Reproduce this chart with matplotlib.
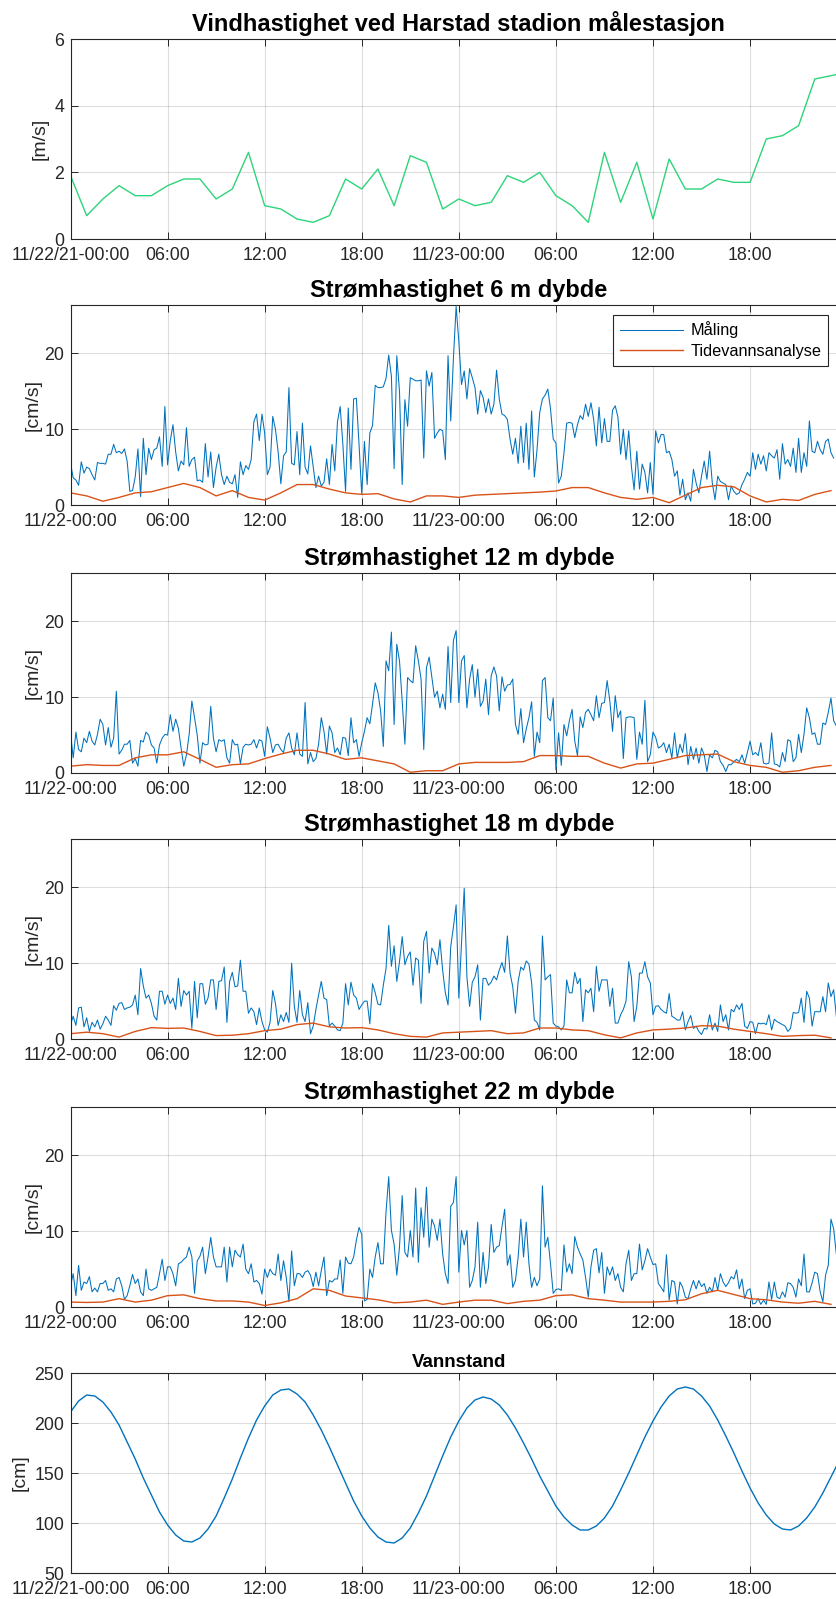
import numpy as np
import matplotlib
matplotlib.use('Agg')
from matplotlib import pyplot as plt

plt.rcParams['font.family'] = ['Liberation Sans', 'DejaVu Sans']

BLUE = '#0072BD'
ORANGE = '#D95319'
GREEN = '#2ED47A'
AXC = '#262626'

# wind, hourly from 11/22 00:00
wind = [1.9, 0.7, 1.2, 1.6, 1.3, 1.3, 1.6, 1.8, 1.8, 1.2, 1.5, 2.6, 1.0, 0.9, 0.6, 0.5,
        0.7, 1.8, 1.5, 2.1, 1.0, 2.5, 2.3, 0.9, 1.2, 1.0, 1.1, 1.9, 1.7, 2.0, 1.3, 1.0,
        0.5, 2.6, 1.1, 2.3, 0.6, 2.4, 1.5, 1.5, 1.8, 1.7, 1.7, 3.0, 3.1, 3.4, 4.8, 4.9, 5.0]

# current speed, measured every 10 minutes
cur6 = [5.5, 3.6, 3.3, 2.6, 5.7, 4.2, 5.0, 4.8, 4.0, 3.3, 5.6, 5.5,
        5.5, 5.4, 6.7, 6.7, 8.0, 6.9, 7.1, 6.8, 7.4, 5.8, 1.8, 1.9,
        3.7, 7.4, 1.1, 8.8, 4.0, 7.5, 6.0, 7.3, 7.5, 9.0, 5.1, 13.0,
        5.3, 8.5, 10.6, 7.0, 4.5, 5.8, 5.3, 10.2, 5.1, 6.0, 6.3, 3.2,
        3.3, 3.0, 8.1, 3.7, 7.0, 2.3, 5.0, 6.7, 4.0, 2.7, 3.8, 3.0,
        2.8, 4.0, 1.0, 5.7, 4.0, 5.2, 4.7, 6.0, 11.0, 12.0, 8.5, 12.0,
        9.5, 4.0, 5.0, 11.7, 10.0, 7.0, 2.8, 6.5, 7.0, 15.5, 5.5, 5.3,
        9.7, 4.0, 10.8, 5.0, 4.1, 7.8, 5.0, 2.3, 3.8, 2.5, 3.0, 6.1,
        2.7, 8.0, 4.5, 11.0, 13.0, 8.0, 1.8, 12.8, 4.7, 14.0, 14.1, 8.0,
        1.4, 8.4, 2.7, 9.5, 10.5, 15.8, 15.5, 15.5, 15.6, 16.7, 19.8, 17.0,
        4.8, 19.7, 15.0, 2.7, 13.9, 10.4, 16.8, 16.6, 16.4, 16.4, 16.5, 6.2,
        17.7, 15.7, 17.5, 8.8, 9.5, 10.0, 9.8, 6.0, 19.7, 11.1, 19.4, 26.2,
        21.6, 15.9, 17.7, 14.0, 18.0, 16.8, 15.5, 12.0, 15.1, 14.2, 12.2, 14.0,
        12.0, 13.3, 17.8, 14.0, 12.0, 11.8, 11.3, 8.7, 6.7, 8.8, 5.5, 10.4,
        5.6, 10.8, 4.7, 12.4, 3.7, 7.3, 12.2, 14.0, 14.5, 15.3, 12.7, 8.7,
        8.2, 2.9, 3.8, 6.9, 10.8, 10.9, 10.8, 8.9, 10.6, 11.8, 11.3, 13.3,
        11.7, 13.5, 11.3, 7.8, 12.9, 8.2, 11.4, 8.4, 8.4, 12.5, 13.1, 11.6,
        6.7, 10.0, 6.0, 9.8, 5.1, 2.0, 7.1, 2.1, 5.4, 4.3, 1.6, 5.6,
        1.4, 9.8, 8.2, 9.3, 9.3, 6.9, 7.1, 6.0, 3.8, 4.5, 1.3, 3.4,
        0.7, 1.6, 0.5, 4.7, 2.9, 1.6, 3.8, 5.8, 3.4, 7.1, 2.9, 0.7,
        3.8, 3.1, 2.9, 2.7, 0.7, 2.5, 1.8, 1.4, 1.6, 2.7, 3.4, 4.3,
        3.8, 6.9, 4.7, 6.7, 5.4, 6.5, 4.5, 6.9, 6.5, 6.2, 7.3, 3.4,
        8.1, 5.4, 6.0, 5.1, 7.5, 4.3, 8.8, 4.3, 6.9, 5.1, 11.1, 7.1,
        6.9, 8.4, 7.3, 6.7, 8.4, 8.7, 6.9, 6.2]

cur12 = [5.3, 2.0, 5.4, 3.1, 2.8, 4.6, 4.0, 5.5, 4.2, 3.7, 5.1, 7.1, 6.4,
         3.7, 6.0, 3.4, 4.6, 10.8, 2.5, 3.0, 3.8, 3.8, 4.3, 1.3, 1.9,
         0.9, 4.3, 4.1, 5.4, 5.0, 3.7, 3.3, 1.3, 3.7, 4.6, 5.1, 5.0,
         7.7, 5.5, 7.1, 5.9, 3.3, 0.9, 2.4, 5.1, 9.5, 7.3, 5.0, 1.3,
         4.0, 3.7, 3.8, 8.8, 4.6, 2.8, 4.4, 4.2, 4.4, 2.0, 1.3,
         4.4, 3.7, 3.8, 1.2, 3.4, 3.8, 3.7, 3.8, 4.4, 3.3, 4.4, 4.2,
         2.2, 6.1, 4.6, 2.7, 3.7, 3.8, 3.1, 2.7, 4.6, 5.3, 3.3,
         2.4, 5.3, 2.5, 2.2, 9.3, 1.2, 2.7, 1.5, 1.9, 3.8, 7.3, 5.5,
         2.5, 6.2, 5.3, 2.7, 3.3, 2.4, 4.7, 4.6, 2.3, 7.3, 4.0,
         4.4, 2.2, 4.0, 5.5, 7.3, 6.5, 9.1, 11.9, 10.6, 8.2, 3.5, 14.8,
         13.5, 18.6, 6.4, 17.0, 14.8, 9.5, 3.8, 12.6, 12.2, 11.9, 16.8, 14.8,
         12.4, 3.1, 13.9, 15.3, 12.6, 10.0, 10.8, 8.6, 10.4, 8.4, 16.7, 9.3,
         17.5, 18.8, 9.3,
         14.8, 15.5, 8.6, 12.4, 14.3, 10.0, 13.7, 8.8, 9.5, 12.4, 7.7, 12.8,
         14.0, 12.8, 8.2, 12.7, 10.8, 11.6, 11.7, 12.4, 6.4, 5.1, 8.5, 4.0,
         5.8, 7.3, 9.4, 2.2, 5.4, 4.0, 12.2, 12.6, 7.3, 6.9, 9.9, 0.4,
         5.3, 1.0, 6.4, 4.9, 6.9, 8.4, 4.2, 2.3, 7.4, 6.0, 8.0, 8.4,
         7.7, 6.9, 10.2, 7.3, 9.2, 9.3, 12.2, 9.5, 5.5, 10.2, 7.3, 8.2,
         1.9, 7.3, 7.4, 7.4, 7.3, 1.8, 5.4, 3.8, 9.6, 1.5, 2.4, 5.4,
         4.7, 3.3, 3.5, 4.0, 2.7, 3.8, 2.0, 5.3, 2.0, 3.8, 2.7, 5.2,
         1.1, 3.5, 1.8, 3.3, 1.3, 3.3, 2.4, 0.2, 2.4, 2.0, 3.0, 2.8,
         1.5, 1.0, 0.2, 1.1, 1.1, 1.5, 1.8, 1.5, 2.4, 1.3, 2.7, 4.2,
         2.4, 2.7, 2.3, 4.0, 1.3, 1.2, 1.3, 5.3, 1.2, 1.1, 0.8, 2.7,
         1.5, 4.4, 4.2, 1.5, 2.0, 5.1, 2.7, 5.1, 8.6, 7.3, 5.1, 5.3,
         3.8, 3.8, 6.6, 6.4, 8.0, 9.9, 6.9, 6.2]

cur18 = [1.9, 3.0, 1.8, 4.1, 4.2, 1.6, 2.8, 1.0, 2.2, 1.6,
         2.5, 1.3, 2.0, 3.0, 2.5, 1.8, 4.4, 3.8, 4.7, 4.8,
         3.9, 4.1, 4.2, 4.5, 5.8, 3.2, 9.3, 7.0, 5.4, 5.8,
         4.7, 3.0, 2.5, 6.3, 6.3, 4.6, 5.8, 4.7, 5.4, 3.9,
         8.0, 4.3, 6.4, 5.8, 6.3, 1.4, 7.6, 2.8, 7.3, 7.3,
         4.6, 5.4, 7.8, 7.8, 3.9, 7.6, 7.7, 9.5, 2.2, 7.6,
         8.8, 6.9, 7.0, 10.4, 6.3, 6.3, 3.4, 4.1, 3.6, 1.9,
         4.1, 2.3, 1.2, 0.9, 2.2, 6.4, 4.7, 1.8, 3.2, 2.3,
         3.5, 2.2, 10.0, 4.3, 2.2, 6.4, 3.2, 2.3, 4.8, 0.7,
         1.7, 3.9, 5.8, 7.6, 5.4, 5.2, 1.7, 2.1, 1.7, 1.2,
         1.1, 2.1, 7.3, 4.5, 7.5, 5.8, 5.4, 3.9, 4.5, 5.0,
         5.0, 2.0, 7.3, 6.1, 4.6, 4.5, 7.1, 9.3, 15.0, 9.6,
         12.3, 7.6, 10.2, 13.5, 9.8, 10.9, 11.5, 7.1, 10.7, 10.4,
         4.7, 12.9, 14.2, 8.7, 12.0, 11.3, 9.8, 13.1, 9.1,
         6.1, 4.5, 12.2, 14.8, 17.7,
         5.4, 12.6, 19.9, 8.2, 4.3, 7.5, 8.2, 9.8, 2.5, 8.0, 8.0, 7.1,
         7.5, 8.3, 7.8, 9.1, 10.1, 8.8, 13.6, 8.7, 6.9, 3.4, 7.6, 9.5,
         9.1, 10.3, 9.9, 7.4, 2.5, 2.2, 1.2, 13.6, 7.8, 8.2, 8.5, 2.1,
         1.7, 1.6, 1.2, 1.7, 7.8, 6.1, 6.1, 8.8, 7.3, 8.0, 2.3, 6.5,
         6.1, 6.7, 3.6, 9.6, 6.3, 7.8, 7.8, 7.8, 4.3, 6.7, 2.1, 2.1,
         3.2, 3.9, 5.0, 10.2, 8.2, 2.3, 4.3, 8.7, 8.7, 10.2, 8.2, 7.4,
         3.2, 4.3, 4.4, 3.9, 3.6, 3.4, 6.0, 3.0, 2.8, 2.5, 2.5, 3.6,
         1.2, 2.3, 3.1, 1.4, 1.7, 1.0, 0.6, 1.4, 1.3, 3.2, 1.2, 2.1,
         1.0, 4.5, 2.3, 3.2, 1.2, 3.9, 3.6, 4.5, 3.9, 4.7, 1.7, 1.4,
         2.3, 2.2, 0.7, 2.1, 2.0, 2.1, 1.9, 3.2, 1.2, 2.6, 2.3, 2.1,
         1.9, 1.7, 1.0, 1.4, 3.5, 3.4, 3.5, 5.4, 2.2, 6.3, 5.4, 1.7,
         3.6, 3.6, 3.6, 5.6, 3.6, 7.4, 5.6, 6.5, 3.0]

cur22 = [2.8, 4.4, 1.5, 5.5, 2.2, 3.3, 3.1, 4.0, 2.0, 2.5,
         2.0, 3.1, 3.1, 3.5, 2.2, 2.4, 2.0, 3.7, 3.9, 2.8,
         1.0, 1.5, 2.8, 4.3, 3.1, 3.7, 2.0, 1.5, 5.0, 2.4,
         2.2, 2.4, 2.6, 4.4, 6.3, 3.5, 5.3, 5.3, 4.4, 2.8,
         5.7, 5.9, 6.3, 6.6, 7.9, 6.6, 1.8, 6.1, 6.7, 7.9,
         4.4, 6.6, 9.2, 6.6, 5.3, 5.3, 5.3, 7.9, 3.3, 7.9,
         5.3, 7.5, 6.9, 6.6, 8.3, 5.0, 4.4, 5.7, 3.3, 3.5,
         3.1, 1.7, 5.0, 3.9, 5.0, 4.4, 4.2, 7.0, 3.5, 6.1,
         3.9, 0.7, 7.4, 2.8, 4.4, 4.4, 3.9, 4.6, 4.8, 4.2,
         2.7, 4.6, 2.8, 4.8, 6.6, 1.5, 3.5, 3.3, 3.7, 3.7,
         6.2, 1.8, 6.6, 5.8, 5.7, 6.6, 8.8, 10.5, 9.6, 0.8,
         1.0, 5.0, 3.9, 6.6, 8.5, 5.7, 5.7, 12.5, 17.2, 10.1,
         8.3, 4.2, 7.9, 14.7, 7.2, 6.6, 10.1, 6.6, 15.7, 5.9,
         13.1, 9.2, 15.8, 7.9, 11.6, 10.7, 8.8, 11.6, 7.0, 4.4,
         3.1, 13.3, 13.8, 17.2,
         4.6, 10.1, 8.2, 10.1, 2.6, 3.5, 5.3, 11.2, 2.6, 7.2, 3.1, 5.3,
         10.9, 7.2, 7.9, 8.1, 10.6, 12.9, 5.5, 6.9, 2.6, 3.5, 6.6, 11.6,
         6.6, 11.2, 5.7, 2.6, 3.9, 2.8, 3.7, 16.0, 7.9, 9.2, 5.7, 1.8,
         2.3, 2.4, 2.2, 8.2, 4.6, 5.7, 4.4, 9.3, 7.9, 7.0, 6.2, 3.9,
         1.3, 5.3, 7.5, 7.7, 4.5, 7.2, 1.8, 5.3, 4.2, 5.3, 3.5, 4.4,
         2.6, 2.0, 5.7, 7.5, 3.5, 4.4, 4.4, 8.3, 4.9, 6.1, 7.7, 6.6,
         5.6, 5.7, 3.1, 2.6, 2.0, 6.9, 0.9, 3.5, 3.3, 0.4, 3.3, 2.6,
         1.3, 1.1, 2.4, 3.5, 2.4, 3.5, 2.7, 3.1, 1.8, 2.6, 2.0, 3.9,
         2.2, 4.4, 3.3, 2.7, 3.2, 4.0, 3.7, 4.9, 2.4, 3.7, 1.1, 2.2,
         2.4, 0.4, 0.5, 1.1, 0.35, 0.9, 0.35, 3.3, 1.0, 3.3, 1.3, 1.1,
         2.0, 1.3, 3.2, 3.1, 2.6, 1.3, 3.7, 2.8, 7.0, 2.0, 2.0, 3.2,
         4.6, 4.4, 2.0, 0.7, 4.2, 5.5, 11.6, 10.3, 7.0]

# tidal analysis, hourly
tide6 = [1.6, 1.2, 0.5, 1.0, 1.6, 1.75, 2.3, 2.85, 2.3, 1.2, 1.9, 1.0, 0.65, 1.6, 2.7, 2.7,
         2.1, 1.6, 1.4, 1.5, 0.8, 0.4, 1.2, 1.2, 1.0, 1.3, 1.4, 1.5, 1.6, 1.7, 1.85, 2.3,
         2.3, 1.6, 1.0, 0.75, 1.0, 0.3, 1.3, 2.3, 2.6, 2.4, 1.2, 0.4, 0.75, 0.6, 1.4, 1.9]
tide12 = [0.9, 1.1, 1.0, 1.0, 2.0, 2.4, 2.4, 2.8, 1.8, 0.75, 1.1, 1.2, 1.9, 2.5, 3.0, 3.0,
          2.5, 1.8, 2.0, 1.6, 1.2, 0.1, 0.3, 0.3, 1.2, 1.4, 1.4, 1.4, 1.5, 2.3, 2.3, 2.2,
          2.2, 1.3, 0.65, 1.2, 1.3, 1.8, 2.3, 2.4, 2.5, 1.5, 1.0, 0.75, 0.1, 0.3, 0.75, 1.0]
tide18 = [0.7, 0.9, 0.7, 0.25, 1.0, 1.5, 1.4, 1.45, 1.0, 0.45, 0.5, 0.7, 1.1, 1.3, 1.9, 2.1,
          1.6, 1.45, 1.5, 1.2, 0.7, 0.35, 0.25, 0.8, 0.9, 1.0, 1.1, 0.7, 0.8, 1.45, 1.45, 1.2,
          1.1, 0.55, 0.15, 0.8, 1.2, 1.3, 1.45, 1.75, 1.7, 1.3, 1.0, 0.7, 0.35, 0.45, 0.5, 0.15]
tide22 = [0.65, 0.6, 0.65, 1.1, 0.65, 0.9, 1.5, 1.6, 1.1, 0.8, 0.8, 0.65, 0.2, 0.55, 1.1, 2.4,
          2.2, 1.45, 1.2, 0.95, 0.55, 0.65, 0.9, 0.35, 0.65, 0.9, 0.9, 0.45, 0.75, 0.9, 1.5, 1.6,
          1.1, 0.9, 0.65, 0.65, 0.65, 0.75, 0.95, 1.75, 2.2, 1.65, 1.1, 0.95, 0.65, 0.5, 0.75, 0.35]

# water level, every 30 minutes
level = [211, 222, 228, 227, 221, 211, 198, 181, 164, 145, 128, 111, 98, 88, 82, 81,
         85, 94, 107, 125, 144, 165, 185, 203, 217, 228, 233, 234, 229, 221, 208, 193,
         176, 158, 140, 122, 107, 95, 86, 81, 80, 85, 95, 110, 127, 147, 167, 186,
         202, 215, 223, 226, 224, 218, 208, 195, 180, 164, 147, 132, 117, 106, 98, 93,
         93, 97, 105, 117, 133, 150, 168, 186, 202, 216, 227, 234, 236, 234, 227, 217,
         203, 187, 170, 152, 135, 120, 108, 99, 94, 93, 97, 105, 116, 130, 146, 162, 179]

tick_hours = [0, 6, 12, 18, 24, 30, 36, 42]
labels_long = ['11/22/21-00:00', '06:00', '12:00', '18:00', '11/23-00:00', '06:00', '12:00', '18:00']
labels_short = ['11/22-00:00', '06:00', '12:00', '18:00', '11/23-00:00', '06:00', '12:00', '18:00']

W, H = 836, 1599
PX_H = 16.18
fig = plt.figure(figsize=(W / 100, H / 100), dpi=100)


def make_axes(top_px):
    return fig.add_axes([70.5 / W, 1 - (top_px + 200) / H, 48 * PX_H / W, 200 / H])


def style(ax, ylim, yticks, xlabels, ylabel, label_px):
    ax.set_xlim(0, 48)
    ax.set_ylim(*ylim)
    ax.set_yticks(yticks)
    ax.set_xticks(tick_hours)
    ax.set_xticklabels(xlabels)
    ax.grid(True, color=AXC, alpha=0.15, linewidth=0.8)
    ax.tick_params(direction='in', top=True, right=True, length=5, width=0.7,
                   colors=AXC, labelsize=12.8)
    ax.tick_params(axis='x', pad=6)
    ax.tick_params(axis='y', pad=4.5)
    for s in ax.spines.values():
        s.set_color(AXC)
        s.set_linewidth(0.8)
    ax.set_ylabel(ylabel, fontsize=14, va='center', color=AXC)
    ax.yaxis.set_label_coords((label_px - 70.5) / (48 * PX_H), 0.5)


def tw(n):
    return np.arange(n) / 6.0


# wind
ax = make_axes(39)
ax.plot(np.arange(len(wind)), wind, color=GREEN, lw=1.0)
style(ax, (0, 6), [0, 2, 4, 6], labels_long, '[m/s]', 40)
ax.set_title('Vindhastighet ved Harstad stadion målestasjon', fontsize=17, fontweight='bold', pad=5.5)

panels = [
    (305, cur6, tide6, 'Strømhastighet 6 m dybde'),
    (573, cur12, tide12, 'Strømhastighet 12 m dybde'),
    (839, cur18, tide18, 'Strømhastighet 18 m dybde'),
    (1107, cur22, tide22, 'Strømhastighet 22 m dybde'),
]
for i, (top, cur, tide, title) in enumerate(panels):
    ax = make_axes(top)
    ax.plot(tw(len(cur)), cur, color=BLUE, lw=0.75, label='Måling')
    ax.plot(np.arange(len(tide)), tide, color=ORANGE, lw=1.0, label='Tidevannsanalyse')
    style(ax, (0, 26.4), [0, 10, 20], labels_short, '[cm/s]', 33)
    ax.set_title(title, fontsize=17, fontweight='bold', pad=5.5)
    if i == 0:
        leg = ax.legend(loc='upper right', bbox_to_anchor=(0.9754, 0.950), borderaxespad=0,
                        fontsize=11.7, handlelength=3.9, handletextpad=0.45, borderpad=0.4,
                        labelspacing=0.35, fancybox=False, framealpha=1, edgecolor=AXC)
        leg.get_frame().set_linewidth(0.8)

# water level
ax = make_axes(1373)
ax.plot(np.arange(len(level)) / 2.0, level, color=BLUE, lw=1.0)
style(ax, (50, 250), [50, 100, 150, 200, 250], labels_long, '[cm]', 20)
ax.set_title('Vannstand', fontsize=13.5, fontweight='bold', pad=4.5)

fig.savefig('out.png', dpi=100)
